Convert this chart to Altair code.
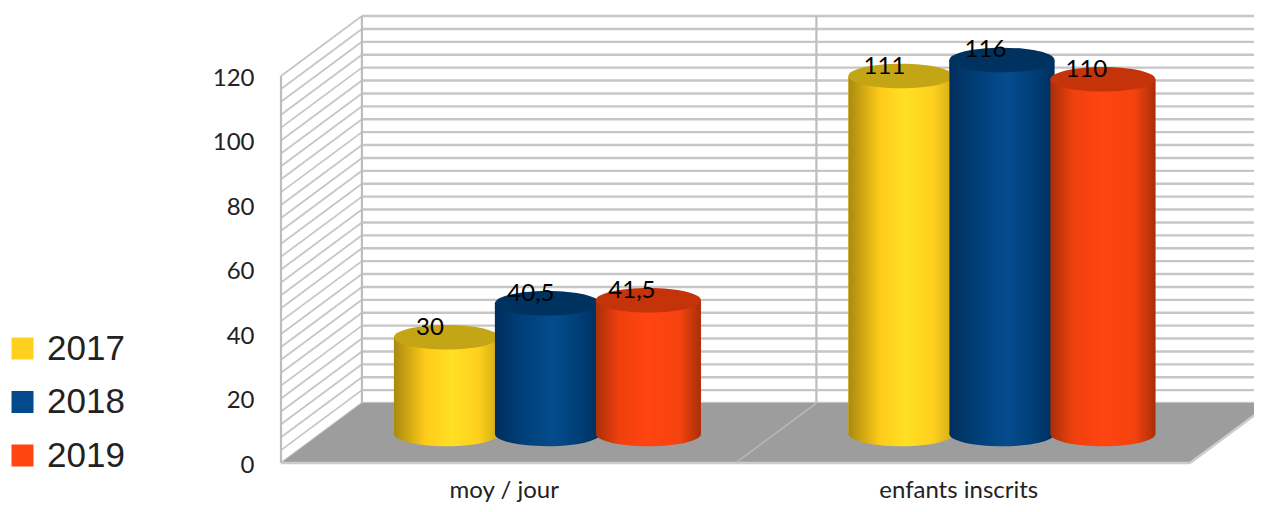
import altair as alt
import pandas as pd

# --- chart values ---
categories = ["moy / jour", "enfants inscrits"]
series = ["2017", "2018", "2019"]
values_2017 = [30, 111]
values_2018 = [40.5, 116]
values_2019 = [41.5, 110]
y_ticks = [0, 20, 40, 60, 80, 100, 120]
grid_levels = list(range(0, 121, 4))
series_colors = ["#FFD01E", "#034A8C", "#FF4510"]
top_colors = ["#C3A516", "#00325F", "#C43309"]
edge_stops = [
    [("#A98A10", 0), ("#FFCB1A", 0.3), ("#FFE022", 0.55), ("#FFD01E", 0.8), ("#D2AC14", 1)],
    [("#002E5C", 0), ("#003F78", 0.25), ("#054C8E", 0.55), ("#003F78", 0.8), ("#002E5C", 1)],
    [("#A92F08", 0), ("#F0400E", 0.22), ("#FF4510", 0.5), ("#F5420F", 0.8), ("#A92F08", 1)],
]

# 3D projection: depth d in 0..1 shifts a point along both scales
DX, DY = 0.178, 18.6
BAR_D = 0.484
STEP, HALF = 0.2222, 0.1155
W, H = 1246, 496
x_scale = alt.Scale(domain=[-0.6007, 2.1408], nice=False, zero=False)
y_scale = alt.Scale(domain=[-12.71, 141.09], nice=False, zero=False)
y_axis = alt.Axis(
    values=y_ticks, grid=False, domain=False, ticks=False, title=None,
    offset=-250, labelPadding=4, labelFont="Lato", labelFontSize=24,
    labelColor="#222222", labelBaseline="middle", labelOffset=2,
)
X = lambda f: alt.X(f, type="quantitative", scale=x_scale, axis=None)
Y = lambda f: alt.Y(f, type="quantitative", scale=y_scale, axis=y_axis)

GRID = "#C6C6C6"

# floor
floor_df = pd.DataFrame({"d": [0, 1]})
floor_df["y"] = floor_df.d * DY
floor_df["x"] = floor_df.d * DX
floor_df["x2"] = 2 + floor_df.d * DX
floor = alt.Chart(floor_df).mark_area(orient="horizontal", color="#9D9D9D").encode(
    y=Y("y"), x=X("x"), x2="x2"
)
floor_edges_df = pd.DataFrame({
    "x": [0, 2], "x2": [2, 2 + DX], "y": [0, 0], "y2": [0, DY]
})
floor_edges = alt.Chart(floor_edges_df).mark_rule(color="#CBCBCB", strokeWidth=2.5).encode(
    x=X("x"), x2="x2", y=Y("y"), y2="y2"
)
divider_df = pd.DataFrame({"x": [1], "x2": [1 + DX], "y": [0], "y2": [DY]})
floor_div = alt.Chart(divider_df).mark_rule(color="#B9B9B9", strokeWidth=1.5).encode(
    x=X("x"), x2="x2", y=Y("y"), y2="y2"
)

# walls
grid_df = pd.DataFrame({"v": grid_levels})
grid_df["back"] = grid_df.v + DY
grid_df["x0"] = DX
grid_df["x1"] = 2 + DX
grid_df["u0"] = 0.0
back_lines = alt.Chart(grid_df).mark_rule(color=GRID, strokeWidth=2.4).encode(
    x=X("x0"), x2="x1", y=Y("back")
)
side_lines = alt.Chart(grid_df).mark_rule(color=GRID, strokeWidth=1.8).encode(
    x=X("u0"), x2="x0", y=Y("v"), y2="back"
)
verts_df = pd.DataFrame({
    "x": [0, DX, 1 + DX],
    "y": [0, DY, DY],
    "y2": [120, 120 + DY, 120 + DY],
})
verticals = alt.Chart(verts_df).mark_rule(color="#BDBDBD", strokeWidth=2.2).encode(
    x=X("x"), y=Y("y"), y2="y2"
)

# cylinders
rows = []
for s, vals in zip(series, [values_2017, values_2018, values_2019]):
    si = series.index(s)
    for ci, v in enumerate(vals):
        cx = ci + 0.5 + DX * BAR_D + (si - 1) * STEP
        rows.append({
            "series": s, "cat": categories[ci], "value": v,
            "cx": cx, "xl": cx - HALF, "xr": cx + HALF,
            "bot": DY * BAR_D, "top": v + DY * BAR_D,
            "label": str(v).replace(".", ","),
        })
bars_df = pd.DataFrame(rows)

legend_bars = alt.Chart(bars_df).mark_bar().encode(
    x=X("xl"), x2="xr", y=Y("top"), y2="bot",
    color=alt.Color(
        "series:N",
        scale=alt.Scale(domain=series, range=series_colors),
        legend=alt.Legend(
            orient="none", legendX=-3, legendY=323, title=None,
            symbolType="square", symbolSize=484, symbolStrokeWidth=0,
            labelFont="Liberation Sans", labelFontSize=35, labelColor="#222222",
            labelOffset=7, rowPadding=17.5, symbolOffset=0,
        ),
    ),
)

ELLIPSE = "M-1,0A1,0.2333,0,1,1,1,0A1,0.2333,0,1,1,-1,0Z"
ELL_SIZE = 11025
cyl_layers = []
for si, s in enumerate(series):
    sub = bars_df[bars_df.series == s]
    grad = alt.Gradient(
        gradient="linear", x1=0, x2=1, y1=0, y2=0,
        stops=[alt.GradientStop(color=c, offset=o) for c, o in edge_stops[si]],
    )
    base = alt.Chart(sub)
    cyl_layers.append(base.mark_point(shape=ELLIPSE, size=ELL_SIZE, filled=True, opacity=1,
                                      color=grad, strokeWidth=0).encode(x=X("cx"), y=Y("bot")))
    cyl_layers.append(base.mark_bar(color=grad).encode(x=X("xl"), x2="xr", y=Y("top"), y2="bot"))
    cyl_layers.append(base.mark_point(shape=ELLIPSE, size=ELL_SIZE, filled=True, opacity=1,
                                      color=top_colors[si], strokeWidth=0).encode(x=X("cx"), y=Y("top")))

value_labels = alt.Chart(bars_df).mark_text(
    font="Lato", fontSize=24, color="#000000", dx=-16.5, dy=-9.5
).encode(x=X("cx"), y=Y("top"), text="label:N")

# category labels
cat_df = pd.DataFrame({"cat": categories, "u": [0.5, 1.5], "v": [-11.2, -11.2]})
cat_labels = alt.Chart(cat_df).mark_text(
    font="Lato", fontSize=24, color="#222222", dx=-4, dy=-8
).encode(x=X("u"), y=Y("v"), text="cat:N")

chart = alt.layer(
    back_lines, side_lines, verticals, floor, floor_edges, floor_div,
    legend_bars, *cyl_layers, value_labels, cat_labels,
).properties(
    width=W, height=H, padding=0,
    autosize=alt.AutoSizeParams(type="none"),
).configure_view(stroke=None)

chart.save("out.html", embed_options={"renderer": "svg", "actions": False})
